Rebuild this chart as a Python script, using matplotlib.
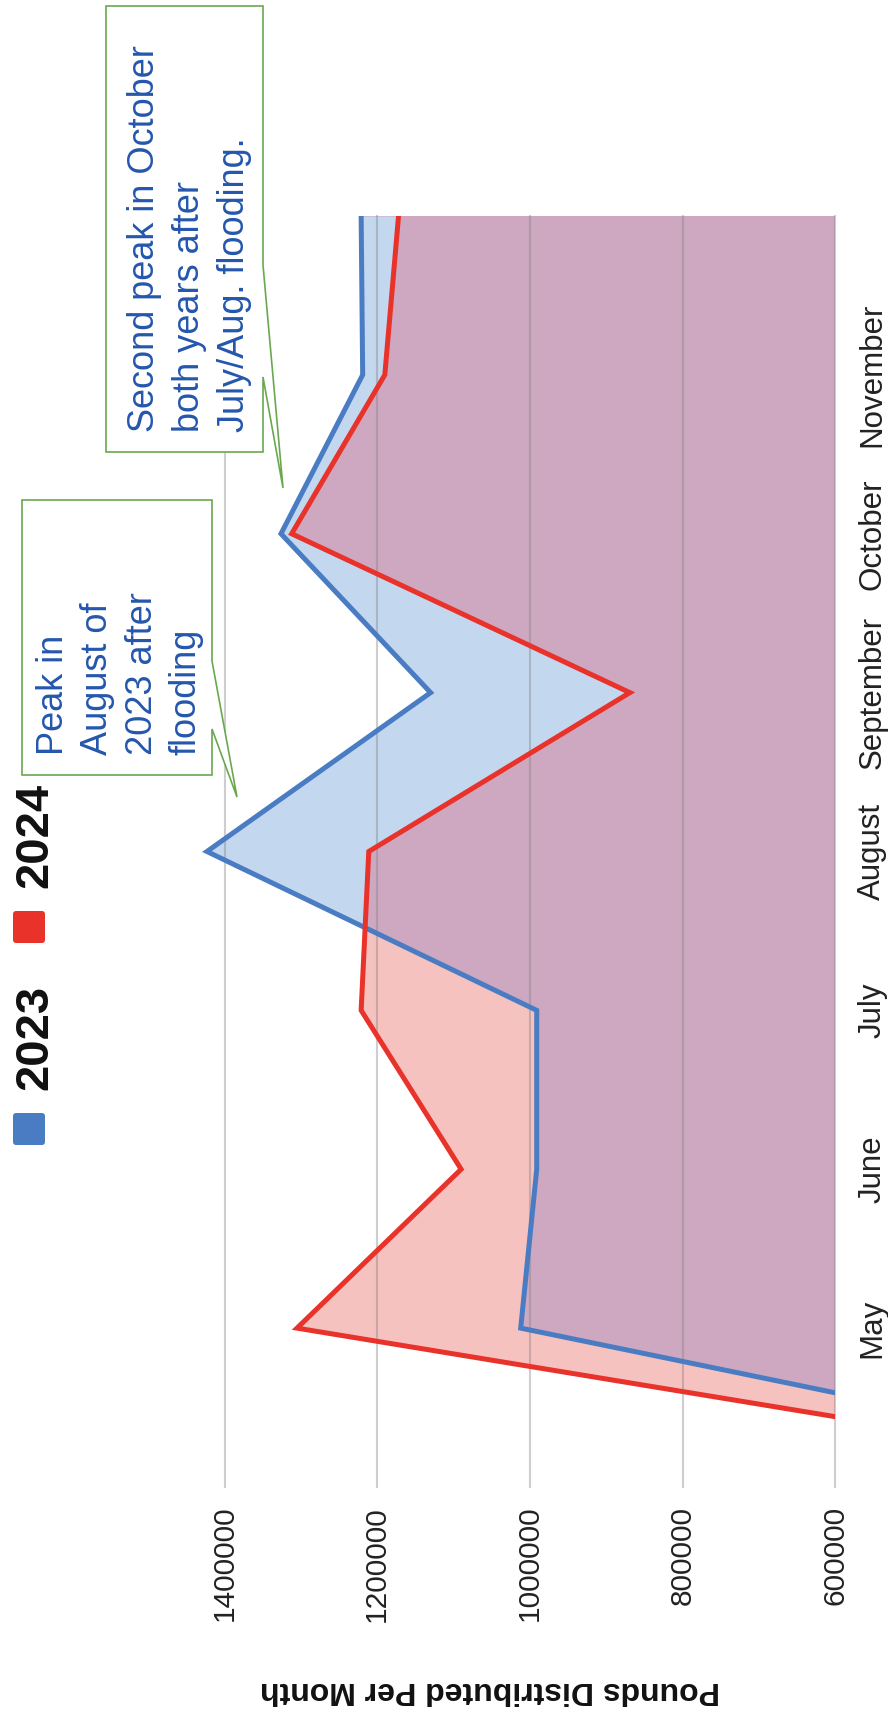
import numpy as np
import matplotlib.pyplot as plt
from matplotlib.patches import Polygon, FancyBboxPatch

plt.rcParams['font.family'] = ['Liberation Sans', 'DejaVu Sans']

# chart data (the chart is drawn turned a quarter turn, as in the picture)
months = ['April', 'May', 'June', 'July', 'August', 'September', 'October', 'November', 'December']
shown_months = ['May', 'June', 'July', 'August', 'September', 'October', 'November']
pounds_2023 = [0, 1012000, 991000, 991000, 1423000, 1130000, 1326000, 1219000, 1221000]
pounds_2024 = [40000, 1305000, 1090000, 1221000, 1211000, 869000, 1312000, 1190000, 1172000]
value_ticks = [600000, 800000, 1000000, 1200000, 1400000]
series_names = ['2023', '2024']

note_1 = ['Peak in', 'August of', '2023 after', 'flooding']
note_2 = ['Second peak in October', 'both years after', 'July/Aug. flooding.']

blue = '#4a7cc4'
red = '#e8322a'
blue_fill = '#c3d7ee'
red_fill = '#f6c2bf'
both_fill = '#cda8c0'
green = '#6aa84f'
note_blue = '#2457ad'

W, H = 888, 1719
fig = plt.figure(figsize=(W / 100, H / 100), dpi=100)


def fx(px):
    return px / W


def fy(py):
    return 1 - py / H


# value axis: 600000 at x=835, 1400000 at x=224.5 -> extend a bit to the left
px_per_val = (835.2 - 224.5) / 800000
x_left_val = 1460000
left_px = 835.2 - (x_left_val - 600000) * px_per_val
ax = fig.add_axes([fx(left_px), fy(1487), fx(835.2) - fx(left_px), fy(216) - fy(1487)])

pos = np.arange(len(months)) - 1
b = np.array(pounds_2023)
r = np.array(pounds_2024)
base = value_ticks[0]

ax.fill_betweenx(pos, base, b, color=both_fill, lw=0, zorder=1)
ax.fill_betweenx(pos, base, r, color=both_fill, lw=0, zorder=1)
ax.fill_betweenx(pos, r, b, where=b >= r, interpolate=True, color=blue_fill, lw=0, zorder=1.1)
ax.fill_betweenx(pos, r, b, where=b < r, interpolate=True, color=red_fill, lw=0, zorder=1.1)

for v in value_ticks:
    ax.axvline(v, color='#7f7f7f', alpha=0.38, lw=1.5, zorder=2, clip_on=False)

ax.plot(b, pos, color=blue, lw=3.6, zorder=3, solid_joinstyle='miter')
ax.plot(r, pos, color=red, lw=3.6, zorder=3, solid_joinstyle='miter')

ax.set_xlim(x_left_val, 600000)
ax.set_ylim(-1, 7)
ax.set_xticks(value_ticks)
ax.set_xticklabels([str(v) for v in value_ticks])
ax.tick_params(axis='x', length=0, pad=13.5, labelsize=21.5, labelrotation=90, labelcolor='#222222')
ax.set_yticks(range(len(shown_months)))
ax.set_yticklabels(shown_months)
ax.yaxis.tick_right()
ax.tick_params(axis='y', length=0, pad=16, labelsize=22.5, labelrotation=90, labelcolor='#222222')
for lab in ax.get_yticklabels():
    lab.set_va('center')
for s in ax.spines.values():
    s.set_visible(False)
ax.set_facecolor('none')

# overlay in pixel coordinates for titles, legend and notes
ov = fig.add_axes([0, 0, 1, 1], zorder=5)
ov.set_xlim(0, W)
ov.set_ylim(H, 0)
ov.axis('off')
ov.patch.set_alpha(0)

ov.text(490, 1682, 'Pounds Distributed Per Month', rotation=180, rotation_mode='anchor',
        ha='center', va='baseline', fontsize=23, fontweight='bold', color='#111111')

# legend
for name, col, sq_y, txt_y in [(series_names[0], blue, 1113, 1090), (series_names[1], red, 911, 888)]:
    ov.add_patch(FancyBboxPatch((13, sq_y), 32, 32, boxstyle='round,pad=0,rounding_size=3',
                                facecolor=col, edgecolor='none'))
    ov.text(47, txt_y, name, rotation=90, rotation_mode='anchor', ha='left', va='baseline',
            fontsize=34, fontweight='bold', color='#111111')

# callout boxes
box_1 = [(22, 500), (212, 500), (212, 661), (237, 797), (212, 729), (212, 775), (22, 775)]
box_2 = [(106, 6), (263, 6), (263, 265), (283, 488), (263, 377), (263, 452), (106, 452)]
for pts in (box_1, box_2):
    ov.add_patch(Polygon(pts, closed=True, facecolor='white', edgecolor=green, lw=1.2))

for i, line in enumerate(note_1):
    ov.text(63 + i * 44.3, 755, line, rotation=90, rotation_mode='anchor', ha='left',
            va='baseline', fontsize=26, color=note_blue)
for i, line in enumerate(note_2):
    ov.text(154 + i * 45, 432, line, rotation=90, rotation_mode='anchor', ha='left',
            va='baseline', fontsize=26, color=note_blue)

fig.savefig('out.png', dpi=100)
